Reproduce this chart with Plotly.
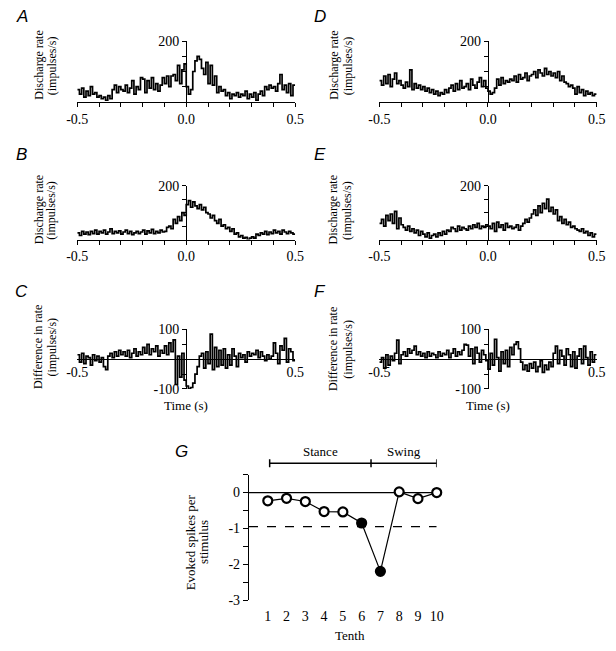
import numpy as np
import plotly.graph_objects as go

W, H = 616, 651

# ---- data: 10 ms bins from -0.5 s to 0.5 s ----
bin_start = -0.5
bin_width = 0.01

rate_A = [40, 25, 45, 15, 35, 20, 50, 25, 30, 15,
          20, 10, 15, 5, 20, 10, 40, 55, 30, 50,
          40, 35, 55, 30, 45, 70, 25, 50, 40, 80,
          75, 30, 70, 45, 80, 40, 60, 35, 55, 80,
          60, 85, 50, 85, 90, 70, 120, 60, 105, 125,
          50, 25, 40, 100, 135, 150, 140, 110, 90, 130,
          60, 120, 55, 85, 30, 50, 35, 40, 20, 30,
          10, 25, 20, 30, 15, 25, 20, 35, 10, 25,
          15, 30, 5, 25, 35, 20, 50, 40, 55, 45,
          50, 35, 60, 90, 40, 55, 30, 60, 20, 55]

rate_B = [25, 15, 30, 20, 28, 18, 30, 22, 35, 20,
          30, 25, 35, 20, 28, 40, 22, 30, 25, 32,
          20, 28, 35, 22, 30, 18, 25, 30, 22, 28,
          35, 20, 32, 25, 38, 22, 30, 25, 35, 28,
          30, 45, 50, 40, 75, 60, 85, 70, 100, 90,
          130, 145, 120, 140, 125, 115, 130, 110, 120, 100,
          95, 80, 90, 70, 60, 75, 50, 55, 40, 45,
          30, 40, 20, 25, 10, 15, 5, 8, 0, 5,
          10, 5, 20, 15, 25, 20, 30, 18, 28, 22,
          35, 25, 30, 20, 35, 28, 22, 30, 25, 20]

diff_C = [15, -10, 20, -15, 10, 5, -20, 15, -5, 10,
          -10, 5, -25, -35, 10, 20, 5, 25, 10, 30,
          15, 25, 10, 30, 5, 20, 35, 10, 25, 15,
          40, 20, 50, 15, 35, 25, 45, 10, 30, 20,
          45, 15, 55, 25, 65, -85, 10, -60, 20, -70,
          -90, -100, -95, -80, -50, -25, 10, 20, -30, 25,
          -15, 84, -35, 40, -25, 30, -20, 35, -30, 15,
          -20, 35, 10, -25, 20, 5, 15, -10, 25, 10,
          20, 15, 30, 5, 25, 10, -5, 15, 0, 10,
          55, 20, -15, 45, 30, 70, -10, 35, 25, -5]

rate_D = [70, 55, 85, 60, 90, 50, 75, 95, 60, 70,
          55, 45, 65, 50, 105, 40, 60, 45, 55, 40,
          50, 35, 45, 30, 40, 25, 35, 20, 30, 25,
          40, 30, 45, 55, 35, 60, 40, 70, 45, 50,
          60, 40, 75, 55, 45, 65, 80, 50, 70, 45,
          35, 25, 30, 45, 75, 55, 80, 60, 70, 65,
          75, 70, 85, 65, 90, 75, 80, 95, 70, 85,
          90, 100, 80, 105, 95, 85, 110, 90, 100, 85,
          95, 80, 100, 70, 85, 65, 60, 50, 55, 45,
          25, 50, 30, 40, 20, 35, 25, 30, 20, 25]

rate_E = [60, 75, 50, 90, 70, 95, 60, 105, 40, 80,
          55, 45, 35, 50, 30, 40, 25, 35, 15, 30,
          20, 10, 25, 5, 15, 20, 10, 25, 15, 30,
          20, 35, 30, 45, 40, 30, 50, 35, 45, 40,
          35, 50, 40, 55, 45, 60, 40, 50, 45, 55,
          50, 40, 60, 30, 65, 45, 55, 35, 60, 45,
          50, 40, 45, 55, 35, 50, 60, 75, 65, 80,
          95, 110, 90, 125, 100, 135, 115, 150, 105, 120,
          95, 110, 70, 85, 60, 75, 55, 65, 45, 50,
          40, 35, 30, 40, 25, 30, 15, 25, 10, 20]

diff_F = [-10, 5, -30, 15, -20, 10, -5, 20, 64, -15,
          15, 25, 10, 35, 20, 30, 44, 15, 25, 10,
          20, 5, 25, 10, 20, 15, 5, 25, 10, 20,
          15, 30, 5, 20, 35, 10, 25, 15, 30, 50,
          47, 10, 35, -15, 40, 20, -10, 30, 15, -5,
          -33, 20, -20, 67, 5, -40, 25, -15, 30, -25,
          40, 15, 50, 58, 35, -10, -35, -20, -40, -15,
          -30, -10, -42, -25, -5, -44, -20, -35, -10, -25,
          20, 44, -15, 30, 10, -20, 35, 15, -25, 25,
          -30, 10, 35, -15, 44, 5, -20, 25, -10, 15]

# ---- panel G ----
tenth = [1, 2, 3, 4, 5, 6, 7, 8, 9, 10]
evoked = [-0.23, -0.16, -0.25, -0.53, -0.54, -0.85, -2.2, 0.02, -0.17, 0.0]
significant = [False, False, False, False, False, True, True, False, False, False]
threshold = -0.95
phase_edges = [1.1, 6.5, 10]
phase_names = ["Stance", "Swing"]

SERIF = "Liberation Serif"
SANS = "Liberation Sans"


def fx(p):
    return p / W


def fy(p):
    return 1 - p / H


def label(text, x, y, size=12, family=SERIF, angle=0, xref="paper"):
    return dict(text=text, x=x, y=y, xref=xref, yref="paper", showarrow=False,
                xanchor="center", yanchor="middle", textangle=angle,
                font=dict(family=family, size=size, color="black"))


fig = go.Figure()
annotations = []
shapes = []

# panel geometry in pixels: (xleft, xright, ybottom, ytop)
panels = [
    ("A", rate_A, "rate", (68.5, 293.7, 97, 35), (11, 10), (29, 42, 60), "Discharge rate"),
    ("B", rate_B, "rate", (68.5, 293.7, 238, 183), (11, 151), (29, 42, 208), "Discharge rate"),
    ("C", diff_C, "diff", (68.5, 293.7, 391, 330), (11, 291), (28, 42, 348), "Difference in rate"),
    ("D", rate_D, "rate", (380.7, 605.3, 97, 35), (319, 10), (333, 348, 60), "Discharge rate"),
    ("E", rate_E, "rate", (380.7, 605.3, 238, 183), (319, 151), (333, 348, 208), "Discharge rate"),
    ("F", diff_F, "diff", (380.7, 605.3, 391, 330), (319, 291), (333, 348, 350), "Difference in rate"),
]

edges = bin_start + bin_width * np.arange(len(rate_A) + 1)

for i, (letter, vals, kind, geo, lpos, tpos, title) in enumerate(panels):
    n = i + 1
    xa = "x" if n == 1 else f"x{n}"
    ya = "y" if n == 1 else f"y{n}"
    xl, xr, yb, yt = geo
    xdom = [fx(xl), fx(xr)]
    ydom = [fy(yb), fy(yt)]
    fig.add_trace(go.Scatter(
        x=edges, y=list(vals) + [vals[-1]], mode="lines",
        line=dict(color="black", width=1.7, shape="hv"),
        xaxis=xa, yaxis=ya, showlegend=False, hoverinfo="skip"))

    xkey = "xaxis" if n == 1 else f"xaxis{n}"
    ykey = "yaxis" if n == 1 else f"yaxis{n}"
    ymid_pos = (xdom[0] + xdom[1]) / 2
    if kind == "rate":
        xticks = [round(-0.5 + 0.1 * k, 1) for k in range(11)]
        xtext = ["-0.5" if v == -0.5 else "0.0" if v == 0 else "0.5" if v == 0.5 else "" for v in xticks]
        fig.update_layout({
            xkey: dict(domain=xdom, range=[-0.5, 0.5], anchor=ya, showline=True,
                       linecolor="black", linewidth=1.3, ticks="outside", ticklen=4,
                       tickwidth=1, tickcolor="black", tickvals=xticks, ticktext=xtext,
                       showgrid=False, zeroline=False,
                       tickfont=dict(family=SERIF, size=14, color="black")),
            ykey: dict(domain=ydom, range=[0, 200], anchor="free", position=ymid_pos,
                       showline=True, linecolor="black", linewidth=1.3, ticks="outside",
                       ticklen=4, tickwidth=1, tickcolor="black",
                       tickvals=[50, 100, 150, 200], ticktext=["", "", "", "200"],
                       showgrid=False, zeroline=False,
                       tickfont=dict(family=SERIF, size=14, color="black")),
        })
    else:
        zero_pos = (ydom[0] + ydom[1]) / 2
        fig.update_layout({
            xkey: dict(domain=xdom, range=[-0.5, 0.5], anchor="free", position=zero_pos,
                       showline=True, linecolor="black", linewidth=1.3, ticks="",
                       tickvals=[-0.5, 0.5], ticktext=["-0.5", "0.5"],
                       showgrid=False, zeroline=False,
                       tickfont=dict(family=SERIF, size=14, color="black")),
            ykey: dict(domain=ydom, range=[-100, 100], anchor="free", position=ymid_pos,
                       showline=True, linecolor="black", linewidth=1.3, ticks="outside",
                       ticklen=4, tickwidth=1, tickcolor="black",
                       tickvals=[-100, -50, 50, 100], ticktext=["-100", "", "", "100"],
                       showgrid=False, zeroline=False,
                       tickfont=dict(family=SERIF, size=14, color="black")),
        })
        annotations.append(label("Time (s)", fx((xl + xr) / 2), fy(408), size=13))

    annotations.append(label(f"<i>{letter}</i>", fx(lpos[0]), fy(lpos[1]), size=17, family=SANS))
    annotations.append(label(title, fx(tpos[0]), fy(tpos[2]), angle=-90))
    annotations.append(label("(impulses/s)", fx(tpos[1]), fy(tpos[2]), angle=-90))

# ---- panel G ----
gx = [0, 10]
fig.add_trace(go.Scatter(x=gx, y=[0, 0], mode="lines", line=dict(color="black", width=1.2),
                         xaxis="x7", yaxis="y7", showlegend=False, hoverinfo="skip"))
fig.add_trace(go.Scatter(x=gx, y=[threshold, threshold], mode="lines",
                         line=dict(color="black", width=1.2, dash="dash"),
                         xaxis="x7", yaxis="y7", showlegend=False, hoverinfo="skip"))
fig.add_trace(go.Scatter(
    x=tenth, y=evoked, mode="lines+markers",
    line=dict(color="black", width=1.2),
    marker=dict(size=9, symbol="circle",
                color=["black" if s else "white" for s in significant],
                line=dict(color="black", width=2.2)),
    xaxis="x7", yaxis="y7", showlegend=False, cliponaxis=False))

fig.update_layout(
    xaxis7=dict(domain=[fx(246), fx(440)], range=[0, 10], anchor="y7", showline=False,
                ticks="", tickvals=tenth, showgrid=False, zeroline=False,
                ticklabelstandoff=6,
                tickfont=dict(family=SERIF, size=14, color="black")),
    yaxis7=dict(domain=[fy(607), fy(478.7)], range=[-3, 0.5], anchor="x7", showline=True,
                linecolor="black", linewidth=1.3, ticks="outside", ticklen=5, tickwidth=1,
                tickcolor="black",
                tickvals=[-3, -2.5, -2, -1.5, -1, -0.5, 0, 0.5],
                ticktext=["-3", "", "-2", "", "-1", "", "0", ""],
                showgrid=False, zeroline=False,
                tickfont=dict(family=SERIF, size=14, color="black")),
)

# stance / swing bar above panel G
bar_y = fy(467)
cap = 4 / H
shapes.append(dict(type="line", xref="x7", yref="paper", x0=phase_edges[0], x1=phase_edges[-1],
                   y0=bar_y, y1=bar_y, line=dict(color="black", width=1.5)))
for e in phase_edges:
    shapes.append(dict(type="line", xref="x7", yref="paper", x0=e, x1=e,
                       y0=bar_y - cap, y1=bar_y + cap, line=dict(color="black", width=1.5)))
for k, name in enumerate(phase_names):
    annotations.append(label(name, (phase_edges[k] + phase_edges[k + 1]) / 2, fy(455),
                             size=13, xref="x7"))

annotations.append(label("<i>G</i>", fx(176), fy(455), size=17, family=SANS))
annotations.append(label("Evoked spikes per", fx(185), fy(548), size=13, angle=-90))
annotations.append(label("stimulus", fx(199), fy(548), size=13, angle=-90))
annotations.append(label("Tenth", fx(350), fy(643), size=13))

fig.update_layout(
    width=W, height=H, margin=dict(l=0, r=0, t=0, b=0),
    paper_bgcolor="white", plot_bgcolor="white",
    annotations=annotations, shapes=shapes, showlegend=False,
)

fig.write_html("out.html", config={"displayModeBar": False},
               post_script="document.body.style.margin='0';")
